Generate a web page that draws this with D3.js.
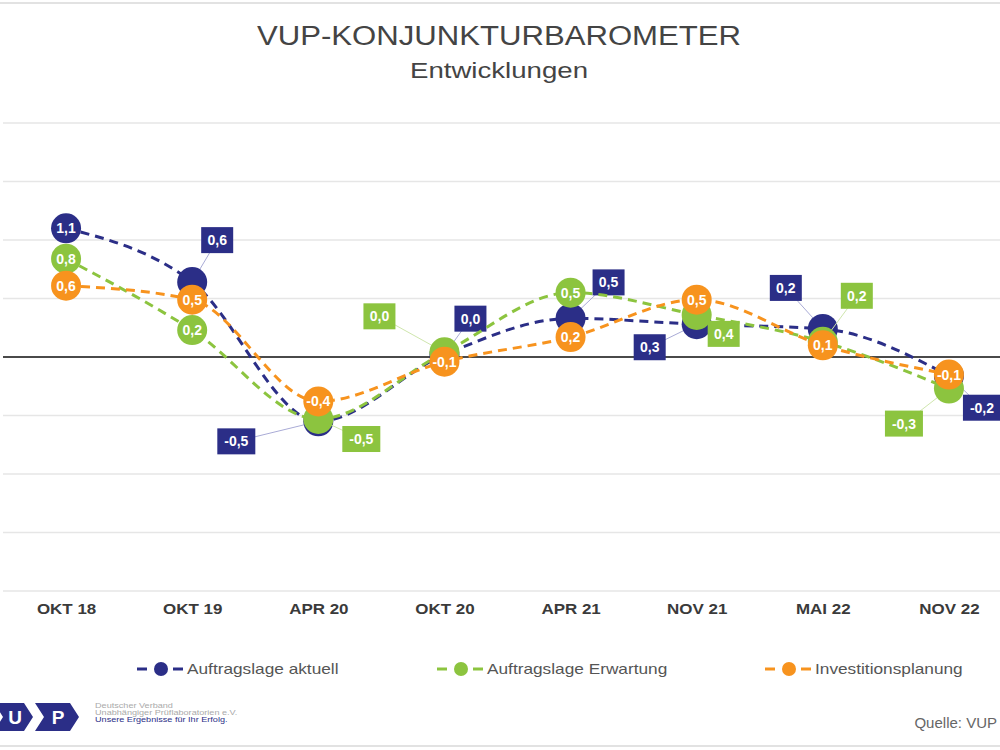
<!DOCTYPE html>
<html>
<head>
<meta charset="utf-8">
<script src="https://cdn.jsdelivr.net/npm/d3@7"></script>
<style>
  body { margin: 0; background: #fff; }
  svg { display: block; font-family: "Liberation Sans", Arial, sans-serif; }
</style>
</head>
<body>
<svg id="chart" width="1000" height="750"></svg>
<script>
// categories
const periods = ["OKT 18", "OKT 19", "APR 20", "OKT 20", "APR 21", "NOV 21", "MAI 22", "NOV 22"];

// plotted values
const aktuellValues = [1.1, 0.64, -0.55, 0.02, 0.33, 0.28, 0.24, -0.16];
const erwartungValues = [0.84, 0.23, -0.53, 0.04, 0.55, 0.36, 0.13, -0.27];
const investValues = [0.61, 0.49, -0.38, -0.04, 0.17, 0.49, 0.1, -0.15];

// printed labels
const aktuellLabels = [1.1, 0.6, -0.5, 0.0, 0.5, 0.3, 0.2, -0.2];
const erwartungLabels = [0.8, 0.2, -0.5, 0.0, 0.5, 0.4, 0.2, -0.3];
const investLabels = [0.6, 0.5, -0.4, -0.1, 0.2, 0.5, 0.1, -0.1];

const yTicks = [-2, -1.5, -1, -0.5, 0, 0.5, 1, 1.5, 2];

// label placement: null = inside the marker, otherwise box offset from marker
const aktuellLabelPos = [null, [25, -42], [-82, 20], [26, -36], [38, -36], [-47, 23], [-37, -41], [33, 32]];
const erwartungLabelPos = [null, null, [43, 20], [-65, -36], null, [27, 19], [34, -46], [-45, 35]];
const investLabelPos = [null, null, null, null, null, null, null, null];

const series = [
  { name: "Auftragslage aktuell", values: aktuellValues, labels: aktuellLabels, pos: aktuellLabelPos,
    color: "#2b2e87", leader: "#a9abd6", legendX: 137 },
  { name: "Auftragslage Erwartung", values: erwartungValues, labels: erwartungLabels, pos: erwartungLabelPos,
    color: "#8cc43f", leader: "#cfe6ad", legendX: 437 },
  { name: "Investitionsplanung", values: investValues, labels: investLabels, pos: investLabelPos,
    color: "#f7931e", leader: "#fbcd95", legendX: 765 }
];

const svg = d3.select("#chart");
const fmt = (v) => d3.format(".1f")(v).replace(".", ",").replace("\u2212", "-");

// the source picture is a bit stretched horizontally
const stretch = (sel, k) =>
  sel.each(function () {
    const w = this.getComputedTextLength();
    d3.select(this).attr("textLength", w * k).attr("lengthAdjust", "spacingAndGlyphs");
  });

// frame lines
svg.append("line").attr("x1", 0).attr("x2", 1000).attr("y1", 3).attr("y2", 3)
  .attr("stroke", "#e2e2e2").attr("stroke-width", 2);
svg.append("line").attr("x1", 0).attr("x2", 1000).attr("y1", 746).attr("y2", 746)
  .attr("stroke", "#e2e2e2").attr("stroke-width", 2);

// title
svg.append("text").attr("x", 499).attr("y", 45).attr("text-anchor", "middle")
  .attr("font-size", 27).attr("fill", "#444")
  .attr("textLength", 484).attr("lengthAdjust", "spacingAndGlyphs")
  .text("VUP-KONJUNKTURBAROMETER");
svg.append("text").attr("x", 499).attr("y", 78).attr("text-anchor", "middle")
  .attr("font-size", 22).attr("fill", "#444")
  .attr("textLength", 178).attr("lengthAdjust", "spacingAndGlyphs")
  .text("Entwicklungen");

// scales
const x = d3.scalePoint().domain(periods).range([3, 1012]).padding(0.5);
const y = d3.scaleLinear().domain([-2, 2]).range([591, 123]);

// gridlines
svg.append("g").selectAll("line").data(yTicks.filter((d) => d !== 0)).join("line")
  .attr("x1", 3).attr("x2", 1000)
  .attr("y1", (d) => y(d)).attr("y2", (d) => y(d))
  .attr("stroke", "#e6e6e6").attr("stroke-width", 1.5);
svg.append("line").attr("x1", 3).attr("x2", 1000).attr("y1", y(0)).attr("y2", y(0))
  .attr("stroke", "#4a4a4a").attr("stroke-width", 2);

// x axis labels
svg.append("g").attr("transform", "translate(0,603)")
  .call(d3.axisBottom(x).tickSize(0).tickPadding(0))
  .call((g) => g.select(".domain").remove())
  .selectAll("text")
  .attr("font-size", 15).attr("font-weight", "bold").attr("fill", "#3a3a3a")
  .attr("font-family", "'Liberation Sans', Arial, sans-serif")
  .call(stretch, 1.13);

const line = d3.line()
  .x((d, i) => x(periods[i]))
  .y((d) => y(d))
  .curve(d3.curveMonotoneX);

// draw each series: line, markers, labels
series.forEach((s) => {
  const g = svg.append("g");
  g.append("path").datum(s.values)
    .attr("d", line).attr("fill", "none")
    .attr("stroke", s.color).attr("stroke-width", 3)
    .attr("stroke-dasharray", "9,6");

  const pts = s.values.map((v, i) => ({ v, i, lab: s.labels[i], pos: s.pos[i] }));

  // leader lines for boxed labels
  g.selectAll(".leader").data(pts.filter((d) => d.pos)).join("line")
    .attr("x1", (d) => x(periods[d.i])).attr("y1", (d) => y(d.v))
    .attr("x2", (d) => x(periods[d.i]) + d.pos[0]).attr("y2", (d) => y(d.v) + d.pos[1])
    .attr("stroke", s.leader).attr("stroke-width", 1);

  g.selectAll(".dot").data(pts).join("circle")
    .attr("cx", (d) => x(periods[d.i])).attr("cy", (d) => y(d.v))
    .attr("r", 15).attr("fill", s.color);

  // labels inside markers
  g.selectAll(".inlab").data(pts.filter((d) => !d.pos)).join("text")
    .attr("x", (d) => x(periods[d.i])).attr("y", (d) => y(d.v) + 5)
    .attr("text-anchor", "middle").attr("font-size", 14).attr("font-weight", "bold")
    .attr("fill", "#fff").text((d) => fmt(d.lab));

  // boxed labels
  const boxed = g.selectAll(".box").data(pts.filter((d) => d.pos)).join("g")
    .attr("transform", (d) => `translate(${x(periods[d.i]) + d.pos[0]},${y(d.v) + d.pos[1]})`);
  boxed.append("rect")
    .attr("x", (d) => (d.lab < 0 ? -19 : -16)).attr("y", -13)
    .attr("width", (d) => (d.lab < 0 ? 38 : 32)).attr("height", 26)
    .attr("fill", s.color);
  boxed.append("text").attr("y", 5).attr("text-anchor", "middle")
    .attr("font-size", 14).attr("font-weight", "bold").attr("fill", "#fff")
    .text((d) => fmt(d.lab));
});

// legend
const legend = svg.append("g").attr("transform", "translate(0,669)");
series.forEach((s) => {
  const lg = legend.append("g").attr("transform", `translate(${s.legendX},0)`);
  lg.append("line").attr("x1", 0).attr("x2", 10).attr("y1", 0).attr("y2", 0)
    .attr("stroke", s.color).attr("stroke-width", 3);
  lg.append("circle").attr("cx", 24).attr("cy", 0).attr("r", 7).attr("fill", s.color);
  lg.append("line").attr("x1", 36).attr("x2", 46).attr("y1", 0).attr("y2", 0)
    .attr("stroke", s.color).attr("stroke-width", 3);
  lg.append("text").attr("x", 50).attr("y", 5).attr("font-size", 15).attr("fill", "#555")
    .text(s.name)
    .call(stretch, 1.15);
});

// logo
const logo = svg.append("g");
logo.append("polygon").attr("points", "-6,703 24,703 33,717 24,731 -6,731 3,717").attr("fill", "#2b2e87");
logo.append("polygon").attr("points", "35,703 70,703 79,717 70,731 35,731 44,717").attr("fill", "#2b2e87");
logo.append("text").attr("x", 15).attr("y", 724).attr("text-anchor", "middle")
  .attr("font-size", 19).attr("font-weight", "bold").attr("fill", "#fff").text("U");
logo.append("text").attr("x", 58).attr("y", 724).attr("text-anchor", "middle")
  .attr("font-size", 19).attr("font-weight", "bold").attr("fill", "#fff").text("P");
logo.append("text").attr("x", 95).attr("y", 708).attr("font-size", 7).attr("fill", "#aaa")
  .text("Deutscher Verband").call(stretch, 1.3);
logo.append("text").attr("x", 95).attr("y", 715).attr("font-size", 7).attr("fill", "#aaa")
  .text("Unabhängiger Prüflaboratorien e.V.").call(stretch, 1.3);
logo.append("text").attr("x", 95).attr("y", 722).attr("font-size", 7).attr("fill", "#2b2e87")
  .text("Unsere Ergebnisse für Ihr Erfolg.").call(stretch, 1.3);

// source (kept fully inside the frame)
svg.append("text").attr("x", 997).attr("y", 728).attr("text-anchor", "end")
  .attr("font-size", 15).attr("fill", "#666")
  .text("Quelle: VUP");
</script>
</body>
</html>
